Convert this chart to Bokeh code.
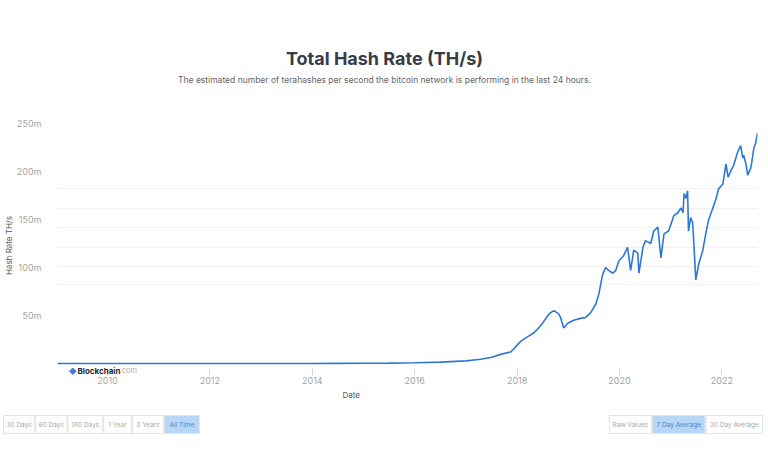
import pandas as pd
from bokeh.plotting import figure
from bokeh.models import Range1d, FixedTicker, PrintfTickFormatter, DatetimeTickFormatter, Label, Grid, Title
from bokeh.layouts import column, row
from bokeh.embed import file_html
from bokeh.resources import INLINE
from bokeh.core.properties import value

# ---------------- data ----------------
dates = [
    "2009-01-09", "2010-01-01", "2011-01-01", "2012-01-01", "2013-01-01",
    "2014-01-01", "2014-07-01", "2015-01-01", "2015-07-01", "2016-01-01",
    "2016-07-01", "2017-01-01", "2017-04-16", "2017-06-27", "2017-09-06",
    "2017-11-16", "2017-12-06", "2018-01-26", "2018-03-18", "2018-05-01",
    "2018-06-03", "2018-07-02", "2018-08-08", "2018-08-29", "2018-09-20",
    "2018-10-23", "2018-11-07", "2018-11-29", "2018-12-28", "2019-02-10",
    "2019-03-29", "2019-05-05", "2019-06-10", "2019-07-17", "2019-08-08",
    "2019-09-02", "2019-09-24", "2019-10-16", "2019-11-14", "2019-12-06",
    "2019-12-28", "2020-01-30", "2020-02-28", "2020-03-21", "2020-04-12",
    "2020-05-11", "2020-05-19", "2020-06-17", "2020-07-05", "2020-08-11",
    "2020-09-02", "2020-10-01", "2020-10-23", "2020-11-14", "2020-12-17",
    "2021-01-23", "2021-02-21", "2021-03-15", "2021-03-30", "2021-04-06",
    "2021-04-20", "2021-05-01", "2021-05-08", "2021-05-23", "2021-06-07",
    "2021-06-29", "2021-07-20", "2021-08-18", "2021-09-09", "2021-09-27",
    "2021-10-26", "2021-11-17", "2021-12-09", "2022-01-08", "2022-01-30",
    "2022-02-14", "2022-03-07", "2022-03-25", "2022-04-23", "2022-05-15",
    "2022-05-30", "2022-06-06", "2022-06-21", "2022-07-05", "2022-07-27",
    "2022-08-18", "2022-08-29", "2022-09-12",
]
hash_rate_m = [
    0.0, 0.0, 0.0, 0.0, 0.0,
    0.01, 0.15, 0.3, 0.4, 0.8,
    1.4, 2.7, 4.5, 6.3, 9.5,
    12.0, 15.0, 23, 28, 32,
    37, 42, 50, 53, 55,
    52, 48, 37, 42, 45,
    47, 48, 53, 62, 73,
    92, 100, 97, 94, 97,
    107, 112, 121, 97, 118,
    115, 94, 121, 128, 125,
    138, 142, 110, 135, 138,
    154, 157, 162, 157, 177,
    172, 180, 138, 152, 146,
    87, 104, 118, 136, 149,
    161, 170, 182, 187, 208,
    194, 201, 206, 220, 227,
    214, 217, 208, 196, 204,
    225, 229, 240,
]
x_tick_years = [2010, 2012, 2014, 2016, 2018, 2020, 2022]
y_ticks_m = [50, 100, 150, 200, 250]
faint_lines_m = [82, 101, 121, 142, 161, 182]
left_buttons = ["30 Days", "60 Days", "180 Days", "1 Year", "3 Years", "All Time"]
right_buttons = ["Raw Values", "7 Day Average", "30 Day Average"]
active_left = "All Time"
active_right = "7 Day Average"
title_text = "Total Hash Rate (TH/s)"
subtitle_text = ("The estimated number of terahashes per second the bitcoin network "
                 "is performing in the last 24 hours.")

FONT = "Inter"
W = 768

# ---------------- header (title + subtitle) ----------------
h = figure(width=W, height=100, output_backend="svg", toolbar_location=None,
           x_range=Range1d(0, W), y_range=Range1d(100, 0), min_border=0)
h.axis.visible = False
h.grid.visible = False
h.outline_line_color = None
h.text(x=[W / 2], y=[58], text=[title_text], text_font=value(FONT), text_font_size="18px",
       text_font_style="bold", text_color="#373c47", text_align="center", text_baseline="middle")
h.text(x=[W / 2], y=[79], text=[subtitle_text], text_font=value(FONT), text_font_size="8.5px",
       text_color="#666666", text_align="center", text_baseline="middle")

# ---------------- main chart ----------------
x = pd.to_datetime(dates)
x_ms = [t.timestamp() * 1000 for t in x]

p = figure(width=W, height=310, x_axis_type="datetime",
           output_backend="svg", toolbar_location=None,
           min_border_left=57, min_border_right=11,
           min_border_top=15, min_border_bottom=35,
           x_range=Range1d(x_ms[0], x_ms[-1]),
           y_range=Range1d(-12.5, 258.3))
p.outline_line_color = None
p.xgrid.grid_line_color = None
p.ygrid.grid_line_color = None
p.add_layout(Grid(dimension=1, ticker=FixedTicker(ticks=faint_lines_m),
                  grid_line_color="#f1f1f1", grid_line_width=1))

p.line(x_ms, hash_rate_m, line_color="#2d78d7", line_width=1.6)

# y axis
ya = p.yaxis[0]
ya.ticker = FixedTicker(ticks=y_ticks_m)
ya.formatter = PrintfTickFormatter(format="%dm")
ya.axis_line_color = None
ya.major_tick_line_color = None
ya.major_tick_in = 0
ya.major_tick_out = 0
ya.minor_tick_line_color = None
ya.minor_tick_in = 0
ya.minor_tick_out = 0
ya.major_label_standoff = 16
ya.major_label_text_font = FONT
ya.major_label_text_font_size = "9px"
ya.major_label_text_color = "#a4a4a4"
ya.axis_label = "Hash Rate TH/s"
ya.axis_label_text_font = FONT
ya.axis_label_text_font_size = "8px"
ya.axis_label_text_font_style = "normal"
ya.axis_label_text_color = "#555555"
ya.axis_label_standoff = 0

# x axis
xa = p.xaxis[0]
xa.ticker = FixedTicker(ticks=[pd.Timestamp(f"{yr}-01-01").timestamp() * 1000 for yr in x_tick_years])
xa.formatter = DatetimeTickFormatter(years="%Y", months="%Y", days="%Y")
xa.axis_line_color = None
xa.minor_tick_line_color = None
xa.minor_tick_in = 0
xa.minor_tick_out = 0
xa.major_tick_line_color = "#d4d4d4"
xa.major_tick_in = 7
xa.major_tick_out = 0
xa.major_label_standoff = 1
xa.major_label_text_font = FONT
xa.major_label_text_font_size = "9px"
xa.major_label_text_color = "#a4a4a4"

p.add_layout(Title(text="Date", align="left", offset=285, standoff=2,
                   text_font=FONT, text_font_size="8px", text_font_style="normal",
                   text_color="#555555"), "below")

# Blockchain.com watermark (frame-relative screen units)
for txt, sx, size, color, style in [("\u25C6", 11, "8px", "#3b7fd8", "normal"),
                                     ("Blockchain", 20, "8px", "#1f2433", "bold"),
                                     (".com", 62, "7.5px", "#aaaaaa", "normal")]:
    p.add_layout(Label(x=sx, y=5, x_units="screen", y_units="screen", text=txt,
                       text_font=FONT, text_font_size=size, text_color=color,
                       text_font_style=style, text_align="left", text_baseline="middle"))

# ---------------- button strip ----------------
b = figure(width=W, height=53, output_backend="svg", toolbar_location=None,
           x_range=Range1d(0, W), y_range=Range1d(463, 410), min_border=0)
b.axis.visible = False
b.grid.visible = False
b.outline_line_color = None

def draw_group(labels, active, start_x, align_right=False):
    widths = [3.6 * len(s) + 6 for s in labels]
    total = sum(widths) + (len(widths) - 1)
    x0 = start_x - total if align_right else start_x
    lefts, rights, fills, tcols, centers = [], [], [], [], []
    for s, w in zip(labels, widths):
        lefts.append(x0)
        rights.append(x0 + w)
        centers.append(x0 + w / 2)
        fills.append("#b7d6f8" if s == active else "#ffffff")
        tcols.append("#4f86c9" if s == active else "#a8a8a8")
        x0 += w + 1
    n = len(labels)
    b.quad(left=lefts, right=rights, bottom=[433] * n, top=[415] * n,
           fill_color=fills, line_color="#e4e4e4", line_width=1)
    b.text(x=centers, y=[424] * n, text=labels, text_color=tcols,
           text_font=value(FONT), text_font_size="6.5px",
           text_align="center", text_baseline="middle")

draw_group(left_buttons, active_left, 3)
draw_group(right_buttons, active_right, 762, align_right=True)

layout = column(row(h), p, row(b), spacing=0)
open("out.html", "w").write(file_html(layout, INLINE))
